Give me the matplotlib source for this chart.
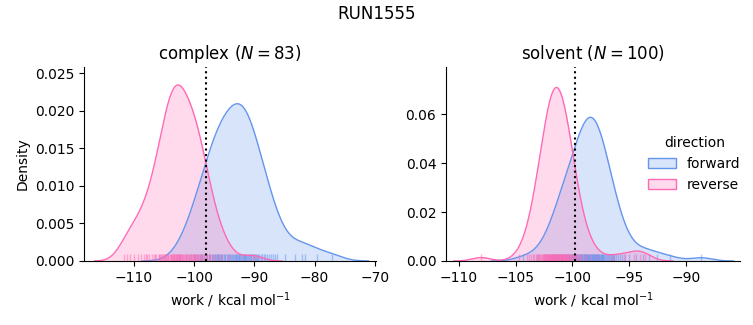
import numpy as np
import matplotlib
matplotlib.use("Agg")
import matplotlib.pyplot as plt
from matplotlib.patches import Patch
import seaborn as sns

# ---------------- data ----------------
complex_forward = [
    -102.5, -101.3, -100.6, -100.1, -99.7, -99.3, -99.0, -98.9,
    -98.7, -98.4, -98.1, -97.8, -97.5,
    -97.3, -97.1, -96.9, -96.7, -96.5, -96.3,
    -96.2, -96.1, -96.0, -95.8, -95.7, -95.6, -95.4, -95.3,
    -95.1, -94.9, -94.8, -94.6, -94.4, -94.2, -94.0,
    -93.9, -93.7, -93.6, -93.4, -93.2, -93.1, -93.0, -92.9,
    -92.8, -92.6, -92.5, -92.4, -92.2, -92.1, -91.9,
    -91.8, -91.7, -91.6, -91.5, -91.4, -91.2, -91.1, -90.9, -90.8,
    -90.6, -90.5, -90.3, -90.1, -89.9, -89.8, -89.6,
    -89.4, -89.2, -88.9, -88.7, -88.4,
    -88.2, -87.9, -87.6, -87.2,
    -86.9, -86.5, -86.2,
    -84.9, -83.3, -82.1, -81.6, -79.6, -77.1,
]
complex_reverse = [
    -111.6, -111.1, -110.6, -110.0, -109.3, -108.8, -108.4, -108.0,
    -107.8, -107.5, -107.0, -106.7,
    -106.5, -106.3, -105.9, -105.8, -105.6, -105.5,
    -105.3, -105.2, -105.0, -104.9, -104.8, -104.6, -104.5, -104.4,
    -104.3, -104.0, -103.9, -103.8, -103.7, -103.6, -103.5,
    -103.4, -103.3, -103.2, -103.1, -103.0, -102.9, -102.8, -102.7, -102.6,
    -102.5, -102.4, -102.3, -102.2, -102.1, -102.0, -101.8, -101.7, -101.5,
    -101.4, -101.2, -101.0, -100.9, -100.8, -100.7, -100.5, -100.4,
    -100.2, -100.1, -100.0, -99.9, -99.8, -99.6, -99.5, -99.4, -99.2,
    -99.0, -98.9, -98.7, -98.6, -98.4, -98.1,
    -97.8, -97.6, -97.4, -97.0,
    -96.6, -96.1, -95.4, -94.3, -90.3,
]
solvent_forward = [
    -104.3, -103.1, -102.45, -102.15, -101.85,
    -101.7, -101.5, -101.3,
    -101.2, -101.15, -101.05, -100.95, -100.88, -100.8,
    -100.7, -100.6, -100.5, -100.4, -100.3,
    -100.22, -100.15, -100.08, -100.0, -99.92, -99.85, -99.78,
    -99.72, -99.66, -99.6, -99.54, -99.47, -99.4, -99.34, -99.28,
    -99.23, -99.18, -99.13, -99.08, -99.03, -98.98, -98.93, -98.88, -98.83, -98.78,
    -98.73, -98.69, -98.65, -98.6, -98.56, -98.51, -98.47, -98.42, -98.38, -98.33, -98.29,
    -98.24, -98.2, -98.15, -98.11, -98.06, -98.02, -97.97, -97.93, -97.88, -97.84, -97.79,
    -97.73, -97.68, -97.63, -97.58, -97.53, -97.48, -97.43, -97.38, -97.33, -97.28,
    -97.22, -97.16, -97.04, -96.98, -96.86, -96.8,
    -96.72, -96.64, -96.56, -96.48, -96.4, -96.32,
    -96.15, -96.0, -95.85, -95.65, -95.4, -95.05,
    -94.4, -93.8, -93.3, -92.6, -91.4, -88.7,
]
solvent_reverse = [
    -108.0, -104.7, -104.0, -103.8,
    -103.6, -103.48, -103.35, -103.22,
    -103.12, -103.05, -102.98, -102.9, -102.83, -102.76, -102.69,
    -102.62, -102.58, -102.52, -102.48, -102.44, -102.4, -102.35, -102.3, -102.25, -102.22, -102.18,
    -102.12, -102.09, -102.05, -102.02, -101.98, -101.95, -101.91,
    -101.88, -101.84, -101.81, -101.77, -101.74, -101.7, -101.67,
    -101.63, -101.6, -101.57, -101.54, -101.51, -101.48, -101.45, -101.42,
    -101.39, -101.36, -101.33, -101.3, -101.26, -101.22, -101.18,
    -101.12, -101.09, -101.05, -101.02, -100.98, -100.95, -100.91,
    -100.88, -100.84, -100.81, -100.77, -100.74, -100.7, -100.67,
    -100.63, -100.59, -100.55, -100.51, -100.47, -100.43, -100.38, -100.33, -100.28, -100.23, -100.18,
    -100.12, -100.05, -99.98, -99.9, -99.83, -99.76, -99.68,
    -99.6, -99.48, -99.35, -99.22, -99.0, -98.8, -98.4, -97.9,
    -96.5, -95.5, -94.6, -94.1, -93.6,
]

phases = ["complex", "solvent"]
n_label = [83, 100]
free_energy = [-98.0, -99.8]
# share of each series in the normalised density (forward, reverse)
norm_weight = {"complex": (0.26, 0.239), "solvent": (0.31, 0.28)}
samples = {"complex": (complex_forward, complex_reverse),
           "solvent": (solvent_forward, solvent_reverse)}
directions = ["forward", "reverse"]
colors = ["cornflowerblue", "hotpink"]


def kde(values, weight, cut=3.0, npts=400):
    v = np.asarray(values, dtype=float)
    n = v.size
    h = v.std(ddof=1) * n ** (-1 / 5)
    grid = np.linspace(v.min() - cut * h, v.max() + cut * h, npts)
    z = (grid[:, None] - v[None, :]) / h
    dens = np.exp(-0.5 * z ** 2).sum(axis=1) / (n * h * np.sqrt(2 * np.pi))
    return grid, weight * dens


fig = plt.figure(figsize=(7.53, 3.25), dpi=100)
ax1 = fig.add_axes([84 / 753, 1 - 261 / 325, 292 / 753, 194 / 325])
ax2 = fig.add_axes([446 / 753, 1 - 261 / 325, 294 / 753, 194 / 325])
axes = [ax1, ax2]
xlims = [(-118.3, -69.8), (-111.1, -85.3)]
ylims = [(0, 0.0258), (0, 0.0792)]

for ax, phase, nl, fe, xl, yl in zip(axes, phases, n_label, free_energy, xlims, ylims):
    for vals, w, c in zip(samples[phase], norm_weight[phase], colors):
        g, d = kde(vals, w)
        ax.fill_between(g, d, 0, color=c, alpha=0.25, lw=0)
        ax.plot(g, d, color=c, lw=1)
        sns.rugplot(x=vals, ax=ax, height=0.035, color=c, alpha=0.5, lw=1)
    ax.axvline(fe, color="black", ls=":", lw=1.5)
    ax.set_xlim(*xl)
    ax.set_ylim(*yl)
    ax.set_title(f"{phase} ($N={nl}$)", fontsize=12)
    ax.set_xlabel(r"work / kcal mol$^{-1}$")
    ax.spines["top"].set_visible(False)
    ax.spines["right"].set_visible(False)

ax1.set_ylabel("Density")
ax1.set_xticks([-110, -100, -90, -80, -70])
ax1.set_yticks([0, 0.005, 0.010, 0.015, 0.020, 0.025])
ax2.set_xticks([-110, -105, -100, -95, -90])
ax2.set_yticks([0, 0.02, 0.04, 0.06])

handles = [Patch(facecolor=matplotlib.colors.to_rgba(c, 0.25), edgecolor=c, lw=1) for c in colors]
ax2.legend(handles, directions, title="direction", frameon=False,
           loc="center left", bbox_to_anchor=(0.645, 0.5), fontsize=10, title_fontsize=10)

fig.suptitle("RUN1555", fontsize=12, y=0.985)
fig.savefig("out.png", dpi=100)
